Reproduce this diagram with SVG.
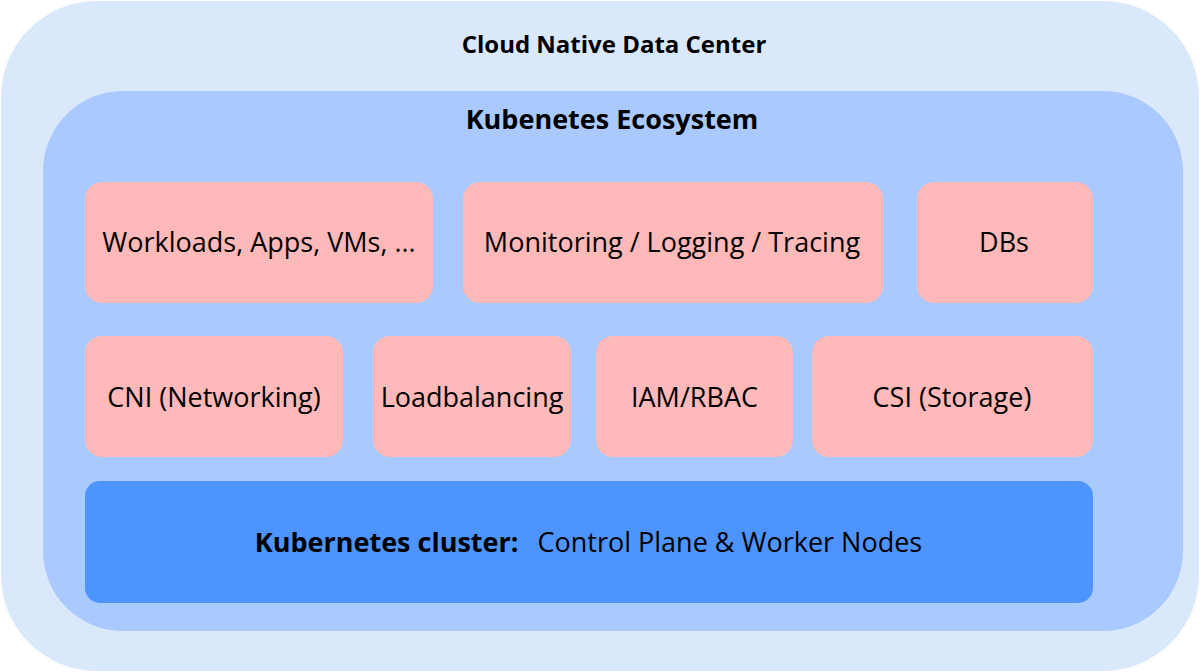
<svg xmlns="http://www.w3.org/2000/svg" width="1200" height="672" viewBox="0 0 1200 672">
<style>
.t{font-family:"Open Sans","Noto Sans","Liberation Sans",sans-serif;fill:#000}
.b{font-weight:bold}
.box{fill:#ffb9b9}
.lbl{font-size:27px;text-anchor:middle}
</style>
<g id="datacenter">
<rect x="1" y="1" width="1198" height="670" rx="96" ry="96" fill="#dae8fc"/>
<text class="t b" x="614" y="53" font-size="24" text-anchor="middle">Cloud Native Data Center</text>
</g>
<g id="ecosystem">
<rect x="43" y="91" width="1140" height="540" rx="80" ry="80" fill="#a9c9ff"/>
<text class="t b" x="612" y="129" font-size="27" text-anchor="middle">Kubenetes Ecosystem</text>
</g>
<g id="workloads"><rect class="box" x="85" y="182" width="348" height="121" rx="17"/><text class="t lbl" x="259" y="252">Workloads, Apps, VMs, ...</text></g>
<g id="monitoring"><rect class="box" x="463" y="182" width="420" height="121" rx="17"/><text class="t lbl" x="672" y="252">Monitoring / Logging / Tracing</text></g>
<g id="dbs"><rect class="box" x="917" y="182" width="176" height="121" rx="17"/><text class="t lbl" x="1004" y="252">DBs</text></g>
<g id="cni"><rect class="box" x="85" y="336" width="258" height="121" rx="17"/><text class="t lbl" x="214" y="407">CNI (Networking)</text></g>
<g id="lb"><rect class="box" x="373" y="336" width="198" height="121" rx="17"/><text class="t lbl" x="472" y="407">Loadbalancing</text></g>
<g id="iam"><rect class="box" x="596" y="336" width="197" height="121" rx="17"/><text class="t lbl" x="694.5" y="407">IAM/RBAC</text></g>
<g id="csi"><rect class="box" x="812" y="336" width="281" height="121" rx="17"/><text class="t lbl" x="952" y="407">CSI (Storage)</text></g>
<g id="cluster"><rect x="85" y="481" width="1008" height="122" rx="15" fill="#4d94ff"/><text class="t" x="588.5" y="552" font-size="27" text-anchor="middle"><tspan class="b">Kubernetes cluster:</tspan><tspan dx="19">Control Plane &amp; Worker Nodes</tspan></text></g>
<g id="connectors"/>
</svg>
